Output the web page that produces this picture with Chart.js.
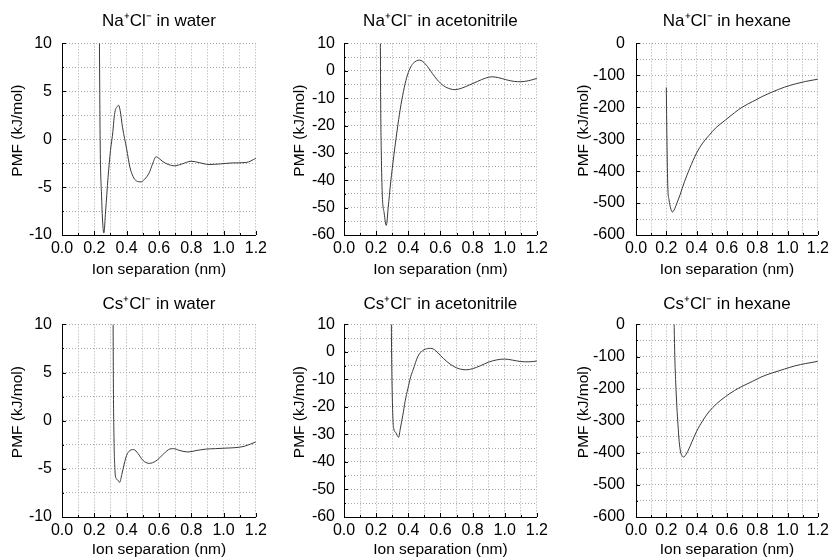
<!DOCTYPE html>
<html>
<head>
<meta charset="utf-8">
<script src="https://cdn.jsdelivr.net/npm/chart.js@4.4.0/dist/chart.umd.min.js"></script>
<style>
  body { margin: 0; background: #fff; }
  #wrap { position: relative; width: 833px; height: 560px; }
  .panel { position: absolute; }
  .panel canvas { display: block; }
</style>
</head>
<body>
<div id="wrap"></div>
<script>
// x = ion separation (nm), y = PMF (kJ/mol)
const naWaterX = [0.231, 0.236, 0.245, 0.253, 0.259, 0.27, 0.285, 0.30, 0.315, 0.323, 0.331, 0.34, 0.35, 0.36, 0.375, 0.40, 0.42, 0.44, 0.46, 0.49, 0.51, 0.54, 0.56, 0.582, 0.60, 0.625, 0.66, 0.695, 0.74, 0.80, 0.85, 0.91, 0.98, 1.05, 1.14, 1.2];
const naWaterY = [12, 0, -6, -9, -9.8, -7.5, -4, -1.2, 0.8, 2.3, 3.1, 3.35, 3.55, 3.0, 1.2, -1.0, -2.9, -3.9, -4.35, -4.45, -4.2, -3.5, -2.6, -1.84, -2.0, -2.35, -2.65, -2.78, -2.6, -2.3, -2.45, -2.64, -2.58, -2.48, -2.43, -2.0];

const naAcnX = [0.226, 0.228, 0.232, 0.238, 0.25, 0.263, 0.275, 0.29, 0.31, 0.33, 0.35, 0.37, 0.39, 0.41, 0.43, 0.45, 0.47, 0.49, 0.52, 0.55, 0.58, 0.62, 0.66, 0.69, 0.73, 0.78, 0.83, 0.88, 0.92, 0.96, 1.01, 1.06, 1.1, 1.15, 1.2];
const naAcnY = [15, -10, -30, -45, -52, -56.5, -50, -41, -31, -22, -14, -7.5, -2.5, 0.8, 2.7, 3.6, 3.9, 3.4, 1.5, -1, -3.3, -5.5, -6.6, -6.9, -6.4, -5.2, -3.9, -2.7, -2.2, -2.5, -3.3, -3.9, -4.0, -3.6, -2.8];

const naHexX = [0.20, 0.204, 0.21, 0.218, 0.228, 0.24, 0.255, 0.27, 0.29, 0.32, 0.354, 0.40, 0.44, 0.48, 0.53, 0.59, 0.65, 0.70, 0.77, 0.83, 0.90, 0.98, 1.05, 1.12, 1.2];
const naHexY = [-138, -300, -450, -490, -515, -528, -518, -500, -475, -433, -392, -343, -312, -289, -263, -240, -217, -200, -182, -167, -152, -137, -127, -119, -112];

const csWaterX = [0.316, 0.318, 0.322, 0.328, 0.335, 0.345, 0.357, 0.37, 0.385, 0.40, 0.42, 0.444, 0.47, 0.50, 0.54, 0.58, 0.62, 0.66, 0.69, 0.73, 0.78, 0.83, 0.89, 0.95, 1.01, 1.07, 1.13, 1.2];
const csWaterY = [12, 4, -2, -5.2, -6.0, -6.15, -6.4, -5.6, -4.5, -3.6, -3.1, -3.0, -3.4, -4.1, -4.43, -4.2, -3.6, -3.0, -2.9, -3.1, -3.25, -3.1, -2.95, -2.9, -2.85, -2.8, -2.65, -2.2];

const csAcnX = [0.294, 0.296, 0.30, 0.305, 0.31, 0.322, 0.34, 0.35, 0.366, 0.38, 0.398, 0.415, 0.43, 0.46, 0.49, 0.52, 0.54, 0.57, 0.60, 0.64, 0.68, 0.72, 0.76, 0.80, 0.85, 0.90, 0.95, 1.0, 1.05, 1.1, 1.15, 1.2];
const csAcnY = [15, 0, -15, -25, -28, -29.3, -31, -28, -23, -18, -13.2, -9, -6.5, -1.6, 0.5, 1.2, 1.3, 0.5, -1.3, -3.5, -5.2, -6.2, -6.5, -6.1, -5.0, -3.7, -2.9, -2.6, -3.0, -3.5, -3.6, -3.3];

const csHexX = [0.25, 0.252, 0.256, 0.262, 0.27, 0.277, 0.285, 0.294, 0.305, 0.316, 0.33, 0.342, 0.37, 0.40, 0.44, 0.48, 0.53, 0.59, 0.65, 0.70, 0.77, 0.83, 0.90, 0.98, 1.05, 1.12, 1.2];
const csHexY = [50, -10, -100, -180, -260, -313, -365, -397, -410, -413, -405, -395, -365, -333, -300, -273, -248, -225, -206, -193, -177, -163, -151, -139, -129, -122, -115];

// y axis ranges: water, acetonitrile, hexane (grid step, label step)
const waterRange = { min: -10, max: 10, step: 2.5, label: 5 };
const acnRange = { min: -60, max: 10, step: 5, label: 10 };
const hexRange = { min: -600, max: 0, step: 50, label: 100 };

const panels = [
  { title: 'Na⁺Cl⁻ in water', x: naWaterX, y: naWaterY, range: waterRange, col: 0, row: 0 },
  { title: 'Na⁺Cl⁻ in acetonitrile', x: naAcnX, y: naAcnY, range: acnRange, col: 1, row: 0 },
  { title: 'Na⁺Cl⁻ in hexane', x: naHexX, y: naHexY, range: hexRange, col: 2, row: 0 },
  { title: 'Cs⁺Cl⁻ in water', x: csWaterX, y: csWaterY, range: waterRange, col: 0, row: 1 },
  { title: 'Cs⁺Cl⁻ in acetonitrile', x: csAcnX, y: csAcnY, range: acnRange, col: 1, row: 1 },
  { title: 'Cs⁺Cl⁻ in hexane', x: csHexX, y: csHexY, range: hexRange, col: 2, row: 1 }
];

// panel geometry so the plot areas line up like the original grid
const cols = [
  { left: 0, width: 271, padRight: 14, yWidth: 62, tickPad: 10, titlePad: 8 },
  { left: 280, width: 272, padRight: 14, yWidth: 64, tickPad: 9, titlePad: 10 },
  { left: 560, width: 273, padRight: 13, yWidth: 76, tickPad: 11, titlePad: 14 }
];
const rows = [
  { top: 0, height: 280, tTop: 11, tBot: 12, xHeight: 45 },
  { top: 281, height: 279, tTop: 13, tBot: 10, xHeight: 43 }
];

Chart.defaults.font.family = "'Liberation Sans', Arial, sans-serif";
Chart.defaults.font.size = 16;
Chart.defaults.color = '#000';

const gridColor = ctx => ctx.index === 0 ? 'rgba(0,0,0,0)' : '#a8a8a8';

// small inward tick marks on the two drawn axes (gnuplot style)
const innerTicks = {
  id: 'innerTicks',
  afterDraw(chart) {
    const { ctx, chartArea: a, scales: { x, y } } = chart;
    ctx.save();
    ctx.strokeStyle = '#000';
    ctx.lineWidth = 1;
    ctx.beginPath();
    x.ticks.forEach(t => {
      const px = Math.round(x.getPixelForValue(t.value)) + 0.5;
      ctx.moveTo(px, a.bottom);
      ctx.lineTo(px, a.bottom - (t.label ? 4 : 2));
    });
    y.ticks.forEach(t => {
      const py = Math.round(y.getPixelForValue(t.value)) + 0.5;
      ctx.moveTo(a.left, py);
      ctx.lineTo(a.left + (t.label ? 4 : 2), py);
    });
    ctx.stroke();
    ctx.restore();
  }
};

panels.forEach(p => {
  const col = cols[p.col];
  const row = rows[p.row];

  const box = document.createElement('div');
  box.className = 'panel';
  box.style.left = col.left + 'px';
  box.style.top = row.top + 'px';
  const canvas = document.createElement('canvas');
  canvas.width = col.width;
  canvas.height = row.height;
  box.appendChild(canvas);
  document.getElementById('wrap').appendChild(box);

  new Chart(canvas, {
    type: 'line',
    data: {
      datasets: [{
        data: p.x.map((v, i) => ({ x: v, y: p.y[i] })),
        borderColor: '#3a3a3a',
        borderWidth: 1,
        pointRadius: 0,
        cubicInterpolationMode: 'monotone',
        fill: false
      }]
    },
    options: {
      responsive: false,
      animation: false,
      layout: { padding: { right: col.padRight } },
      plugins: {
        legend: { display: false },
        tooltip: { enabled: false },
        title: {
          display: true,
          fullSize: false, // centre over the plot area, not the canvas
          text: p.title,
          color: '#000',
          font: { size: 17, weight: 'normal' },
          padding: { top: row.tTop, bottom: row.tBot }
        }
      },
      scales: {
        x: {
          type: 'linear',
          min: 0,
          max: 1.2,
          afterFit: s => { s.height = row.xHeight; },
          ticks: {
            stepSize: 0.1,
            autoSkip: false,
            maxRotation: 0,
            padding: 4,
            callback: v => Math.round(v * 10) % 2 === 0 ? v.toFixed(1) : ''
          },
          grid: { color: gridColor, drawTicks: false },
          border: { display: true, color: '#000', width: 1, dash: [1, 2] },
          title: { display: true, text: 'Ion separation (nm)', font: { size: 15.5 }, padding: { top: 0, bottom: 1 } }
        },
        y: {
          min: p.range.min,
          max: p.range.max,
          afterFit: s => { s.width = col.yWidth; },
          ticks: {
            stepSize: p.range.step,
            autoSkip: false,
            padding: col.tickPad,
            callback: v => v % p.range.label === 0 ? String(v) : ''
          },
          grid: { color: gridColor, drawTicks: false },
          border: { display: true, color: '#000', width: 1, dash: [1, 2] },
          // leading spaces nudge the rotated label up a little, as in the original
          title: { display: true, text: '    PMF (kJ/mol)', font: { size: 15.5 }, padding: { top: col.titlePad, bottom: 0 } }
        }
      }
    },
    plugins: [innerTicks]
  });
});
</script>
</body>
</html>
